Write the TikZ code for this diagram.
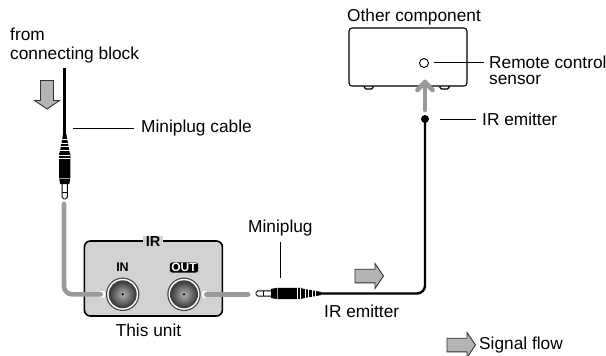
\documentclass[tikz,border=0pt]{standalone}
\usepackage{fontspec}
\setmainfont{Liberation Sans}
\definecolor{cablegray}{HTML}{999999}
\definecolor{panelgray}{HTML}{D2D2D2}
\definecolor{flowgray}{HTML}{B4B4B4}
\tikzset{
  lbl/.style={inner sep=0pt,font=\fontsize{17.3}{21}\selectfont,text=black},
  leader/.style={draw=black,line width=1pt},
  graycable/.style={draw=cablegray,line width=4.6pt,line cap=round,rounded corners=8pt},
  blackcable/.style={draw=black,line width=2.4pt,rounded corners=8pt},
  flowarrow/.pic={
    \draw[fill=flowgray,draw=black!80,line width=0.9pt,line join=miter]
      (0,-#1) -- (20,-#1) -- (20,-12.5) -- (28.5,0) -- (20,12.5) -- (20,#1) -- (0,#1) -- cycle;
  },
  miniplug/.pic={
    \draw[fill=white,draw=black,line width=0.9pt,rounded corners=1.8pt] (0,-2.6) rectangle (17,2.6);
    \draw[black,line width=0.9pt] (7,-2.6) -- (7,2.6);
    \fill[black] (15,-4.6) -- (21,-5.6) -- (46,-5.6) -- (46,5.6) -- (21,5.6) -- (15,4.6) -- cycle;
    \draw[white!60!black,line width=0.7pt] (21,-5.6) -- (21,5.6);
    \draw[white,line width=1pt] (41,-5.6) -- (41,5.6) (44,-5.6) -- (44,5.6);
    \fill[black] (46,-5) -- (65,-1.6) -- (65,1.6) -- (46,5) -- cycle;
    \draw[white,line width=0.9pt] (49,-5) -- (49,5) (52.5,-5) -- (52.5,5) (56,-4) -- (56,4) (59.5,-3) -- (59.5,3);
  },
  jack/.pic={
    \fill[black!75] (0,0) circle (16.7);
    \fill[white] (0,0) circle (15.5);
    \fill[black!75] (0,0) circle (14);
    \shade[inner color=black!30,outer color=black!75] (0,0) circle (12.6);
    \fill[black] (0,0) circle (1.3);
  },
}
\begin{document}
\begin{tikzpicture}[x=1pt,y=-1pt]
\useasboundingbox (0,0) rectangle (606,356);

% labels
\node[lbl,anchor=west] (from) at (10,34) {from};
\node[lbl,anchor=west] (block) at (10,55) {connecting block};
\node[lbl,anchor=west] (mcable) at (141,128) {Miniplug cable};
\node[lbl,anchor=west] (mplug) at (248,228) {Miniplug};
\node[lbl,anchor=west] (irlow) at (324,311) {IR emitter};
\node[lbl] (unit) at (148.5,330.5) {This unit};
\node[lbl,anchor=west] (other) at (347,17) {Other component};
\node[lbl,anchor=west] (remote) at (489,62) {Remote control};
\node[lbl,anchor=west] (sensor) at (489,80) {sensor};
\node[lbl,anchor=west] (irup) at (482,119) {IR emitter};
\node[lbl,anchor=west] (flow) at (479,345) {Signal flow};

% left cable and plug
\coordinate (cabletop) at (64.7,68);
\coordinate (plugtip) at (64.7,199);
\coordinate (plugend) at (64.7,134);
\draw[black,line width=3pt] (cabletop) -- (plugend);
\pic[rotate=90] at (plugtip) {miniplug};
\coordinate (leadA) at (73,128);
\coordinate (leadB) at (134,128);
\draw[leader] (leadA) -- (leadB);
\pic[rotate=-90] at (47,80.5) {flowarrow=6.5};

% panel
\node[draw=black,line width=1.6pt,fill=panelgray,rounded corners=6pt,minimum width=138pt,minimum height=75pt,inner sep=0pt] (panel) at (153.4,278.5) {};
\node[fill=panelgray,inner xsep=3pt,inner ysep=1pt,font=\fontsize{14.5}{15}\selectfont\bfseries] (irtitle) at (153,241.5) {IR};
\node[inner sep=0pt,font=\fontsize{12.5}{13}\selectfont\bfseries] (inlabel) at (122.5,267) {IN};
\node[fill=black,text=white,rounded corners=2.5pt,inner xsep=1.5pt,inner ysep=0.8pt,font=\fontsize{12}{13}\selectfont\bfseries] (outlabel) at (184,267.5) {OUT};

% jacks
\coordinate (injack) at (122.7,294.3);
\coordinate (outjack) at (184,294.3);
\coordinate (bendtop) at (64,204);
\coordinate (bendlow) at (64,294.3);
\coordinate (inend) at (100.7,294.3);
\coordinate (outstart) at (206.3,294.3);
\coordinate (outend) at (248,294.3);
\fill[white] (102,294.3) circle (3.6);
\fill[white] (205,294.3) circle (3.6);
\draw[graycable] (bendtop) -- (bendlow) -- (inend);
\draw[graycable] (outstart) -- (outend);
\pic at (injack) {jack};
\pic at (outjack) {jack};

% right cable and plug
\coordinate (rplug) at (256,293.5);
\coordinate (rplugend) at (321,293.5);
\coordinate (rcorner) at (425,293.5);
\coordinate (dot) at (425,119);
\draw[blackcable] (rplugend) -- (rcorner) -- (dot);
\pic at (rplug) {miniplug};
\fill[black] (dot) circle (4);
\coordinate (mtop) at (280,242);
\coordinate (mlow) at (280,278);
\draw[leader] (mtop) -- (mlow);
\pic at (355,276) {flowarrow=6.8};

% other component
\draw[black,line width=1.1pt,fill=white,rounded corners=1.5pt] (364.5,86) -- (364.5,89) -- (373,89) -- (373,86);
\draw[black,line width=1.1pt,fill=white,rounded corners=1.5pt] (440,86) -- (440,89) -- (449,89) -- (449,86);
\node[draw=black,line width=1.1pt,rounded corners=3pt,minimum width=118pt,minimum height=58pt,inner sep=0pt] (box) at (408,57) {};
\node[draw=black,line width=0.9pt,circle,minimum size=9pt,inner sep=0pt] (led) at (424,63) {};
\coordinate (sa) at (434,62);
\coordinate (sb) at (484,62);
\draw[leader] (sa) -- (sb);
\coordinate (ea) at (440,119);
\coordinate (eb) at (476,119);
\draw[leader] (ea) -- (eb);

% gray up arrow
\coordinate (upa) at (425,110);
\coordinate (upb) at (425,82);
\draw[cablegray,line width=4.6pt,line cap=round,line join=round] (upa) -- (upb);
\draw[cablegray,line width=4.6pt,line cap=round,line join=round] (417.5,90) -- (upb) -- (432.5,90);

% legend
\pic at (447,345) {flowarrow=6.8};
\end{tikzpicture}
\end{document}
